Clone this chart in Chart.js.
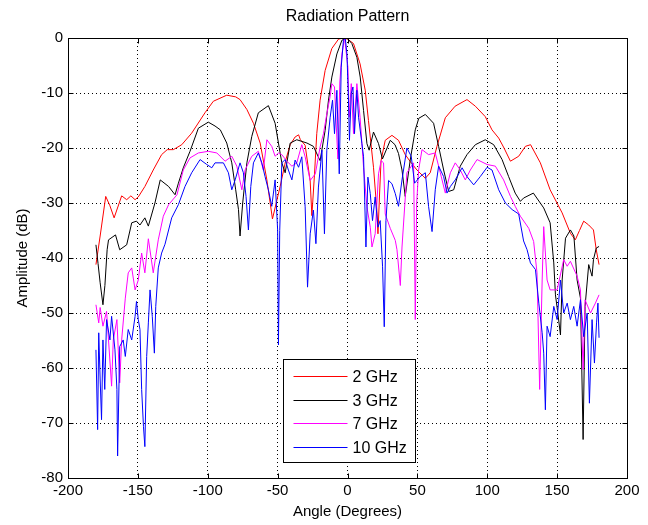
<!DOCTYPE html>
<html>
<head>
<meta charset="utf-8">
<script src="https://cdn.jsdelivr.net/npm/chart.js@4.4.1/dist/chart.umd.min.js"></script>
<style>
  html, body { margin: 0; padding: 0; background: #fff; }
  #wrap { width: 648px; height: 525px; }
</style>
</head>
<body>
<div id="wrap"><canvas id="patternChart" width="648" height="525"></canvas></div>
<script>
// measured patterns: angle (deg) / amplitude (dB)
var ang2 = [-180, -177, -173, -170, -167, -161.6, -158, -155, -152, -149.7,
  -145, -139, -133, -129, -124.6, -118.6, -111.5, -102, -96, -86.4,
  -80, -76.9, -72, -67.3, -62.5, -57.7, -53.7, -48.2, -44, -41,
  -37.5, -35, -33.7, -30.3, -26.7, -25.5, -23.6, -22, -19.6, -16,
  -11.2, -6.4, -3, 0, 4.3, 9, 12.7, 15, 18.6, 21,
  21.8, 23, 24, 27, 31.8, 36.5, 41.3, 45, 49.7, 55.7,
  59.2, 64, 70, 77, 85.5, 91.5, 98.6, 103.4, 108.2, 112,
  116.6, 122.5, 127.3, 131, 138, 145, 153.6, 159.5, 163, 166,
  169, 172.6, 176, 178, 180];
var db2 = [-41.2, -36, -28.8, -30.5, -32.7, -28.7, -29.4, -28.7, -29.4, -28.9,
  -27, -24, -21.2, -20.3, -20.3, -19.4, -17.3, -13.6, -11.5, -10.4,
  -10.7, -11.2, -13, -15.5, -19.1, -25.8, -32.9, -27, -22, -19.4,
  -18, -17.6, -18.5, -19.5, -26, -32.3, -24.7, -17.4, -11.3, -5.9,
  -1.9, -0.2, 0, -0.2, -1, -4.7, -9.5, -15, -23.5, -31.3,
  -35.6, -28, -22.3, -18.6, -17.7, -18.6, -21.2, -22.5, -24, -25.5,
  -24.5, -19.7, -14.5, -12.4, -11.2, -12.4, -14.3, -16.7, -18.2, -20,
  -22.4, -21.5, -19.7, -19.4, -22.7, -27.6, -31.8, -35.5, -36.7, -35,
  -33.3, -34, -34.9, -38.5, -41.2];

var ang3 = [-180, -178.5, -177, -175, -173.6, -172, -171, -166, -163, -158,
  -154.4, -151, -148.5, -145, -142.5, -137.8, -134, -128, -123.4, -121,
  -117.5, -112.7, -106.7, -99.6, -94.8, -91, -86.4, -82.8, -80, -78,
  -76.9, -75, -72, -68.5, -63.8, -56.6, -51.8, -49.4, -47, -44.6,
  -41, -36.3, -29, -24.4, -19.6, -16, -13.6, -11.2, -7.6, -4,
  -0.4, 3.1, 6.7, 9.1, 11.5, 13.9, 15.5, 18.6, 22.2, 25,
  30.6, 34, 36.5, 39, 41.3, 45, 48.5, 51, 55.7, 61.6,
  65.2, 68.8, 72.4, 76, 80.7, 85.5, 91.5, 98.6, 104.6, 110.6,
  115.3, 120, 123.7, 126, 133, 140.4, 145, 147.6, 148.8, 150.5,
  152.4, 153.6, 156, 159.5, 162, 164.3, 166.7, 168.6, 170, 172.6,
  175, 176, 178, 180];
var db3 = [-37.6, -41, -44.5, -48.5, -45, -38.5, -36.7, -35.8, -38.5, -37.6,
  -33.6, -33.3, -34, -32.7, -34.2, -30, -25.8, -27, -28.5, -26.4,
  -23.6, -20.6, -16.4, -15.3, -16, -16.7, -19.1, -22.7, -27.6, -31.2,
  -36, -30, -22.7, -17.9, -13.6, -12.3, -15.5, -19.1, -22.7, -24.5,
  -19.1, -18.5, -19.1, -19.7, -22.3, -16.8, -11.3, -7.1, -2.9, -0.4,
  0, -1, -3.5, -7.1, -13.2, -19.2, -20.4, -17.1, -19.2, -22,
  -18.6, -19.4, -21, -24, -28.8, -22, -16.7, -14.6, -13.9, -15.5,
  -19.7, -24, -27.9, -27.6, -23.3, -21.2, -19.4, -18.5, -19.4, -22.1,
  -25.2, -28.2, -29.7, -29.1, -28.2, -30.9, -33.6, -40.9, -46.7, -50,
  -54, -44, -36.4, -34.9, -36, -44, -47.3, -73, -48.8, -41.2,
  -43.3, -40.3, -38.2, -37.9];

var ang7 = [-180, -178, -177, -175, -172.4, -171, -168.8, -167.6, -165, -163,
  -161.6, -159, -156.9, -154.4, -152, -149.7, -147.3, -145, -142.5, -139,
  -135.4, -131.8, -128, -122, -117.5, -112.7, -106.7, -99.6, -93.5, -87.6,
  -82.8, -79.2, -75.6, -73.3, -68.5, -63.8, -60.2, -57.7, -54.2, -51.8,
  -49.4, -47, -43.4, -39.8, -36.3, -32.7, -30.3, -26.7, -23, -19.6,
  -17.2, -14.8, -12.4, -11.2, -9.3, -6.9, -5.5, -4, -2.1, 0.3,
  1.2, 2.7, 4.3, 6.7, 9, 11.5, 13.9, 16.3, 17.5, 19.8,
  22.2, 24.1, 25.8, 27, 30.6, 34.2, 35.4, 37.8, 39, 42.5,
  47.3, 48.5, 49.5, 50.9, 53.3, 58, 62.8, 66.4, 70, 73.6,
  77.1, 80.7, 84.3, 87.9, 92.7, 99.9, 105.8, 111.7, 116.6, 120,
  123.7, 129.7, 133.2, 135.6, 137.5, 139.3, 140.4, 142.8, 145, 150,
  154.7, 157.2, 159.5, 164.3, 166.7, 168.6, 170, 173.9, 177.4, 180];
var db7 = [-48.5, -51.8, -49, -52.4, -49.7, -54.9, -63.3, -54.9, -51.2, -62.7,
  -54.9, -47.3, -42.7, -41.8, -45.8, -44, -39.1, -42.7, -36.5, -42.7,
  -36.7, -32.4, -30.3, -28.5, -24, -21.8, -20.9, -20.6, -20.9, -22.4,
  -21.5, -23.3, -27.6, -24, -21.5, -20.6, -24, -18.5, -19.7, -21.5,
  -20.9, -21.2, -22.4, -23.3, -22.7, -19.4, -21.6, -25.9, -24.7, -19.8,
  -17.4, -13.8, -10.6, -8.3, -8.9, -22, -8, -2.9, 0, -5.3,
  -14.4, -8.3, -17.4, -8.3, -14.4, -23.5, -30.7, -34.4, -38, -35.6,
  -24.7, -22.3, -22.7, -32, -34.6, -36.8, -38.5, -45, -38, -24.5,
  -22.7, -51.2, -30, -24, -20.3, -21.2, -20.9, -24.5, -28.2, -24.5,
  -22.7, -24, -25.8, -24, -22.1, -23, -23.3, -25.8, -28.8, -30.6,
  -32.4, -34.6, -37, -42.7, -63.9, -44, -34.3, -44, -45.8, -45.8,
  -40.3, -41.5, -40.6, -43.3, -45.8, -60.3, -47.6, -50, -48.2, -46.7];

var ang10 = [-180, -178.8, -178, -177, -176, -175, -173.7, -172.4, -170, -168.8,
  -166.4, -165, -164.5, -163, -160.5, -159, -156.9, -154.4, -152, -151,
  -149.7, -148.5, -147.3, -146, -145, -143.7, -142.5, -141.3, -139.7, -138.2,
  -137.2, -135.4, -133, -130.6, -125.8, -121, -116.3, -111.5, -105.5, -100.7,
  -97.1, -94.8, -88.8, -85.2, -82.8, -80.4, -76.9, -74.5, -72.6, -70.9,
  -69.2, -67.3, -63.8, -61.3, -59, -56.6, -54.2, -51.8, -50, -49.4,
  -48.5, -47, -44.6, -42.3, -39.8, -37.5, -35, -32.7, -30.3, -28.6,
  -26.7, -24.4, -22.6, -20.8, -18.3, -16.5, -14.8, -12.4, -10.7, -9.3,
  -7.6, -5.9, -4.5, -2.9, -1.6, -0.4, 0.7, 1.4, 2.7, 3.9,
  5, 6.7, 7.9, 10.3, 11.5, 13.2, 14.6, 16.3, 17.9, 19.8,
  21.8, 23.4, 25.1, 26.3, 27.5, 29.4, 31.8, 34.2, 36.5, 39,
  42.5, 45.6, 48, 52, 55.7, 58, 60.5, 62.8, 65.2, 68.8,
  71.2, 73.6, 77.1, 82, 85.5, 90.3, 95, 99.9, 103.4, 108.2,
  113, 117.8, 122.5, 126, 128.5, 130.9, 134.5, 136.9, 139.3, 140.4,
  141.6, 142.8, 145, 147.6, 150, 152.4, 154.7, 157.2, 159.5, 161.9,
  164.3, 166.7, 169, 171.5, 173.1, 175, 176.7, 178.2, 179.2, 180];
var db10 = [-56.7, -71.2, -53.6, -62, -69.4, -54.9, -63.9, -51.2, -54.9, -50.6,
  -56.7, -63.9, -76, -56.1, -54.9, -57.9, -53, -54.9, -50.6, -47.9,
  -51.2, -53, -63.9, -70.6, -74.3, -57.9, -51.8, -45.8, -50.6, -57.3,
  -48.8, -41.8, -39.1, -37.5, -32.7, -30.3, -27, -24.5, -22.1, -23,
  -23.6, -22.7, -22.7, -24.5, -27.6, -25.8, -22.7, -24.5, -28.8, -34.9,
  -27, -22.7, -20.9, -22.7, -25.2, -27.6, -30.6, -25.8, -34.9, -55.8,
  -35, -22.7, -22.1, -24, -25.8, -22.2, -23.5, -21.6, -30.7, -45.3,
  -35.6, -31.3, -37.4, -27.1, -20.4, -35.6, -20.4, -14.4, -11.3, -17.4,
  -9.5, -24.7, -5.3, -0.4, 0, -2.9, -11.3, -18.6, -10.1, -8.9,
  -17.4, -9.5, -14.4, -19.2, -21.6, -38, -25.3, -28.3, -33.2, -28.9,
  -34.4, -33.2, -41.6, -52.5, -33.2, -25.9, -26.5, -28.3, -30.6, -25.8,
  -20, -21.5, -26.4, -25.2, -24.5, -30.6, -35.2, -27.6, -23.3, -25.2,
  -28.2, -27, -25.8, -23.6, -25.2, -26.7, -25.2, -23.5, -24, -27.6,
  -30, -31.2, -32, -36.9, -38.5, -40.9, -42.1, -48.2, -53.6, -57.3,
  -67.6, -52.4, -54.3, -48.8, -51.2, -44, -50, -48.2, -51.2, -48.8,
  -52.4, -47.6, -54.3, -50, -66.4, -51.2, -59.1, -51.8, -48.2, -54.5];

var seriesNames = ['2 GHz', '3 GHz', '7 GHz', '10 GHz'];
var seriesColors = ['#ff0000', '#000000', '#ff00ff', '#0000ff'];
var xTicks = [-200, -150, -100, -50, 0, 50, 100, 150, 200];
var yTicks = [-80, -70, -60, -50, -40, -30, -20, -10, 0];

function pts(a, d) {
  return a.map(function (v, i) { return { x: v, y: d[i] }; });
}
var curves = [pts(ang2, db2), pts(ang3, db3), pts(ang7, db7), pts(ang10, db10)];

var font = 'Liberation Sans, Arial, Helvetica, sans-serif';

// box around the axes, inward tick marks and the legend inside the plot
var axesBox = {
  id: 'axesBox',
  afterDatasetsDraw: function (chart) {
    var ctx = chart.ctx, a = chart.chartArea;
    var xs = chart.scales.x, ys = chart.scales.y;
    ctx.save();
    ctx.strokeStyle = '#000';
    ctx.lineWidth = 1;
    var L = Math.round(a.left) + 0.5, R = Math.round(a.right) + 0.5;
    var T = Math.round(a.top) + 0.5, B = Math.round(a.bottom) + 0.5;
    ctx.strokeRect(L, T, R - L, B - T);
    ctx.beginPath();
    xTicks.forEach(function (t) {
      var px = Math.round(xs.getPixelForValue(t)) + 0.5;
      ctx.moveTo(px, B); ctx.lineTo(px, B - 5);
      ctx.moveTo(px, T); ctx.lineTo(px, T + 5);
    });
    yTicks.forEach(function (t) {
      var py = Math.round(ys.getPixelForValue(t)) + 0.5;
      ctx.moveTo(L, py); ctx.lineTo(L + 5, py);
      ctx.moveTo(R, py); ctx.lineTo(R - 5, py);
    });
    ctx.stroke();

    // legend
    var lx = L + 215, ly = T + 321, lw = 132, lh = 103;
    ctx.fillStyle = '#fff';
    ctx.fillRect(lx, ly, lw, lh);
    ctx.strokeRect(lx, ly, lw, lh);
    ctx.font = '16px ' + font;
    ctx.textBaseline = 'middle';
    var rows = [16, 40, 63.5, 87.5];
    seriesNames.forEach(function (name, i) {
      var ry = Math.round(ly + rows[i]) + 0.5;
      ctx.strokeStyle = seriesColors[i];
      ctx.beginPath();
      ctx.moveTo(lx + 10, ry); ctx.lineTo(lx + 64, ry);
      ctx.stroke();
      ctx.fillStyle = '#000';
      ctx.fillText(name, lx + 69, ry + 1);
    });
    ctx.restore();
  }
};

var ctx = document.getElementById('patternChart').getContext('2d');
var myChart = new Chart(ctx, {
  type: 'line',
  data: {
    datasets: curves.map(function (c, i) {
      return {
        label: seriesNames[i],
        data: c,
        borderColor: seriesColors[i],
        backgroundColor: seriesColors[i],
        borderWidth: 1,
        pointRadius: 0,
        tension: 0,
        fill: false,
        order: 3 - i
      };
    })
  },
  options: {
    responsive: false,
    animation: false,
    events: [],
    layout: { padding: { left: 9, right: 21, top: 0, bottom: 0 } },
    plugins: {
      legend: { display: false },
      tooltip: { enabled: false },
      title: {
        display: true,
        fullSize: false,
        text: 'Radiation Pattern',
        color: '#000',
        font: { family: font, size: 16, weight: 'normal' },
        padding: { top: 7.4, bottom: 11.4 }
      }
    },
    scales: {
      x: {
        type: 'linear',
        min: -200,
        max: 200,
        afterBuildTicks: function (s) { s.ticks = xTicks.map(function (v) { return { value: v }; }); },
        afterFit: function (s) { s.height = 47; },
        ticks: { color: '#000', font: { family: font, size: 15 }, padding: 4, maxRotation: 0 },
        grid: { color: '#000', drawTicks: false },
        border: { display: false, dash: [1, 3] },
        title: { display: true, text: 'Angle (Degrees)', color: '#000', font: { family: font, size: 15 }, padding: { top: 4, bottom: 4.5 } }
      },
      y: {
        min: -80,
        max: 0,
        afterBuildTicks: function (s) { s.ticks = yTicks.map(function (v) { return { value: v }; }); },
        afterFit: function (s) { s.width = 59; },
        ticks: { color: '#000', font: { family: font, size: 15 }, padding: 5 },
        grid: { color: '#000', drawTicks: false },
        border: { display: false, dash: [1, 3] },
        title: { display: true, text: 'Amplitude (dB)', color: '#000', font: { family: font, size: 15 }, padding: { top: 4.5, bottom: 10 } }
      }
    }
  },
  plugins: [axesBox]
});
</script>
</body>
</html>
